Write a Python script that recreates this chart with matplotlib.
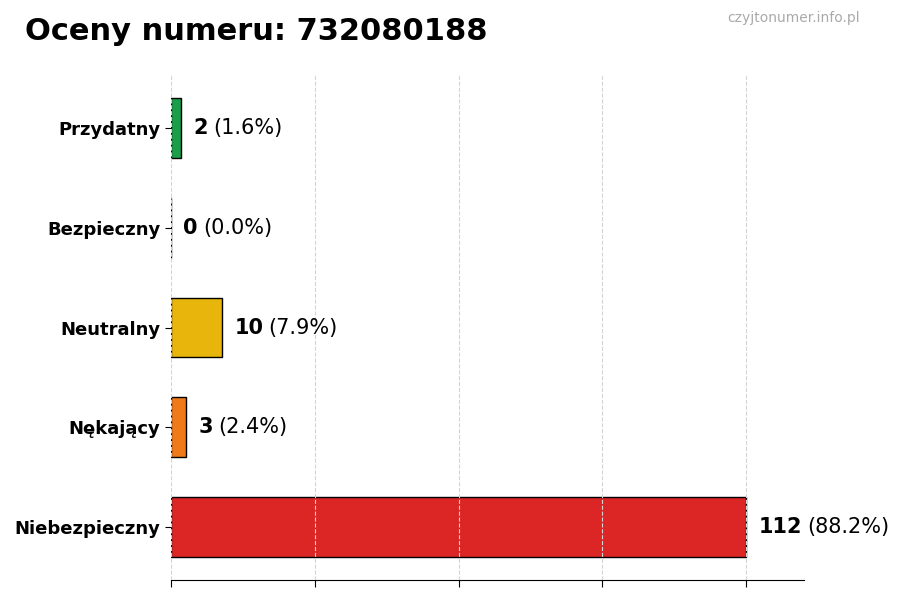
import matplotlib
matplotlib.use("Agg")
import matplotlib.pyplot as plt

categories = ["Niebezpieczny", "Nękający", "Neutralny", "Bezpieczny", "Przydatny"]
values = [112, 3, 10, 0, 2]
colors = ["#dc2626", "#f07a1a", "#e8b50c", "#8a8a8a", "#1a9e4a"]
xticks = [0, 28, 56, 84, 112]
title = "Oceny numeru: 732080188"
watermark = "czyjtonumer.info.pl"

total = sum(values)

fig = plt.figure(figsize=(9, 6), dpi=100)
ax = fig.add_axes([0.19, 0.0333, 0.703, 0.8417])

y = list(range(len(categories)))
ax.barh(y, values, height=0.6, color=colors, edgecolor="black", linewidth=1, zorder=2)
ax.set_yticks(y)
ax.set_yticklabels(categories, fontsize=13, fontweight="bold")
ax.set_xticks(xticks)
ax.set_xticklabels([])
ax.set_xlim(0, max(values) * 1.1)
ax.set_axisbelow(False)
ax.grid(axis="x", linestyle="--", color="#d4d4d4", linewidth=0.8, zorder=3)
for s in ["top", "right", "left"]:
    ax.spines[s].set_visible(False)
ax.tick_params(axis="x", length=5)
ax.tick_params(axis="y", length=4)

for yi, v in zip(y, values):
    t = ax.annotate(str(v), xy=(v, yi), xytext=(9, 0), textcoords="offset points",
                    va="center", ha="left", fontsize=15, fontweight="bold", zorder=4)
    ax.annotate(f"({v / total * 100:.1f}%)", xy=(1, 0.5), xycoords=t,
                xytext=(3.5, 0), textcoords="offset points",
                va="center", ha="left", fontsize=15, zorder=4)

fig.text(0.028, 0.947, title, fontsize=22, fontweight="bold", va="center", ha="left")
fig.text(0.955, 0.97, watermark, fontsize=10, color="#aaaaaa", va="center", ha="right")

fig.savefig("out.png", dpi=100)
